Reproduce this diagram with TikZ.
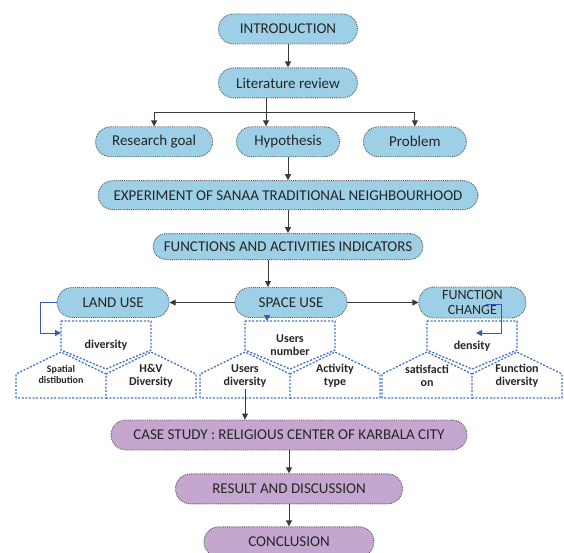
\documentclass[tikz,border=0pt]{standalone}
\usepackage{fontspec}
\setmainfont{Carlito}
\usetikzlibrary{arrows.meta,positioning}
\definecolor{BoxBlue}{HTML}{9DCFE6}
\definecolor{BoxPurple}{HTML}{C4A6CE}
\definecolor{EdgeGray}{HTML}{5A5A5A}
\definecolor{LineDark}{HTML}{3A3A3A}
\definecolor{DashBlue}{HTML}{4472C4}
\definecolor{ArrBlue}{HTML}{3A5BAA}

\begin{document}
\begin{tikzpicture}[x=1pt,y=-1pt,
  stage/.style={rectangle,rounded corners=15pt,draw=EdgeGray,densely dotted,
                line width=0.9pt,fill=BoxBlue,minimum height=30pt,inner sep=2pt,
                text=black!85,font=\fontsize{15}{16}\selectfont,align=center},
  casebox/.style={stage,fill=BoxPurple},
  cell/.style={draw=DashBlue,line width=1.3pt,dash pattern=on 2pt off 1.6pt},
  lbl/.style={font=\fontsize{12}{13}\selectfont\bfseries,text=black!85,
              align=center,inner sep=1pt},
  link/.style={line width=0.9pt,LineDark},
  arr/.style={-{Triangle[length=6pt,width=6pt]},line width=0.9pt,LineDark},
  arrb/.style={-{Triangle[length=6pt,width=6pt]},line width=0.9pt,ArrBlue}]
\useasboundingbox (0,0) rectangle (564,553);
% main column
\node[stage,minimum width=139pt] (intro) at (288,29) {INTRODUCTION};
\node[stage,minimum width=139pt,below=23pt of intro] (lit) {Literature review};
\node[stage,minimum width=103pt,below=28pt of lit] (hyp) {Hypothesis};
\node[stage,minimum width=117pt,left=23pt of hyp] (goal) {Research goal};
\node[stage,minimum width=103pt,right=23pt of hyp] (prob) {Problem};
\node[stage,minimum width=380pt,minimum height=29pt,below=23pt of hyp] (exp)
  {EXPERIMENT OF SANAA TRADITIONAL NEIGHBOURHOOD};
\node[stage,minimum width=270pt,minimum height=26pt,rounded corners=13pt,
      below=23pt of exp] (func) {FUNCTIONS AND ACTIVITIES INDICATORS};
\node[stage,minimum width=112pt,below=27pt of func,xshift=3pt] (space) {SPACE USE};
\node[stage,minimum width=112pt,left=65pt of space] (land) {LAND USE};
\node[stage,minimum width=107pt,minimum height=31pt,inner sep=0pt,
      font=\fontsize{14}{15}\selectfont,right=71pt of space] (fchg) {FUNCTION\\CHANGE};
% indicator cells
\foreach \c in {106,290,472}{
  \draw[cell] (\c-45,321) -- (\c+45,321) -- (\c+45,350) -- (\c,369) -- (\c-45,350) -- cycle;
  \draw[cell] (\c-90,398) -- (\c-90,374) -- (\c-45,352) -- (\c,374) -- (\c,398) -- cycle;
  \draw[cell] (\c,374) -- (\c+45,352) -- (\c+90,374) -- (\c+90,398) -- (\c,398);
}
\node[lbl] (div) at (106,345) {diversity};
\node[lbl] (unum) at (290,345) {Users\\number};
\node[lbl] (dens) at (472,346) {density};
\node[lbl,font=\fontsize{10}{11}\selectfont\bfseries] (spat) at (61,375) {Spatial\\distibution};
\node[lbl] (hv) at (151,376) {H\&V\\Diversity};
\node[lbl] (udiv) at (245,376) {Users\\diversity};
\node[lbl] (act) at (335,376) {Activity\\type};
\node[lbl] (sat) at (427,376) {satisfacti\\on};
\node[lbl] (fdiv) at (517,376) {Function\\diversity};
% case study column
\node[casebox,minimum width=356pt] (case) at (289,435)
  {CASE STUDY : RELIGIOUS CENTER OF KARBALA CITY};
\node[casebox,minimum width=227pt,below=23pt of case] (res) {RESULT AND DISCUSSION};
\node[casebox,minimum width=170pt,below=22pt of res] (concl) {CONCLUSION};
% connectors
\coordinate (br) at (266,112);
\coordinate (fs) at (268,0);
\coordinate (unin) at (267,321);
\coordinate (divin) at (61,333);
\coordinate (densin) at (476,333);
\draw[arr] (intro) -- (lit);
\draw[link] (lit.south -| br) -- (br);
\draw[link] (goal.north |- br) -- (prob.north |- br);
\draw[arr] (goal.north |- br) -- (goal.north);
\draw[arr] (br) -- (hyp.north -| br);
\draw[arr] (prob.north |- br) -- (prob.north);
\draw[arr] (hyp) -- (exp);
\draw[arr] (exp) -- (func);
\draw[arr] (func.south -| fs) -- (space.north -| fs);
\draw[arr] (space) -- (land);
\draw[arr] (space) -- (fchg);
\draw[arrb] (space.south -| unin) -- (unin);
\draw[arrb] (land.west) -- ++(-16,0) |- (divin);
\draw[arrb] ([xshift=14pt,yshift=-2pt]fchg.center) -- ++(15,0) |- (densin);
\draw[arr] (udiv.south) -- (case.north -| udiv.south);
\draw[arr] (case) -- (res);
\draw[arr] (res) -- (concl);
\end{tikzpicture}
\end{document}
